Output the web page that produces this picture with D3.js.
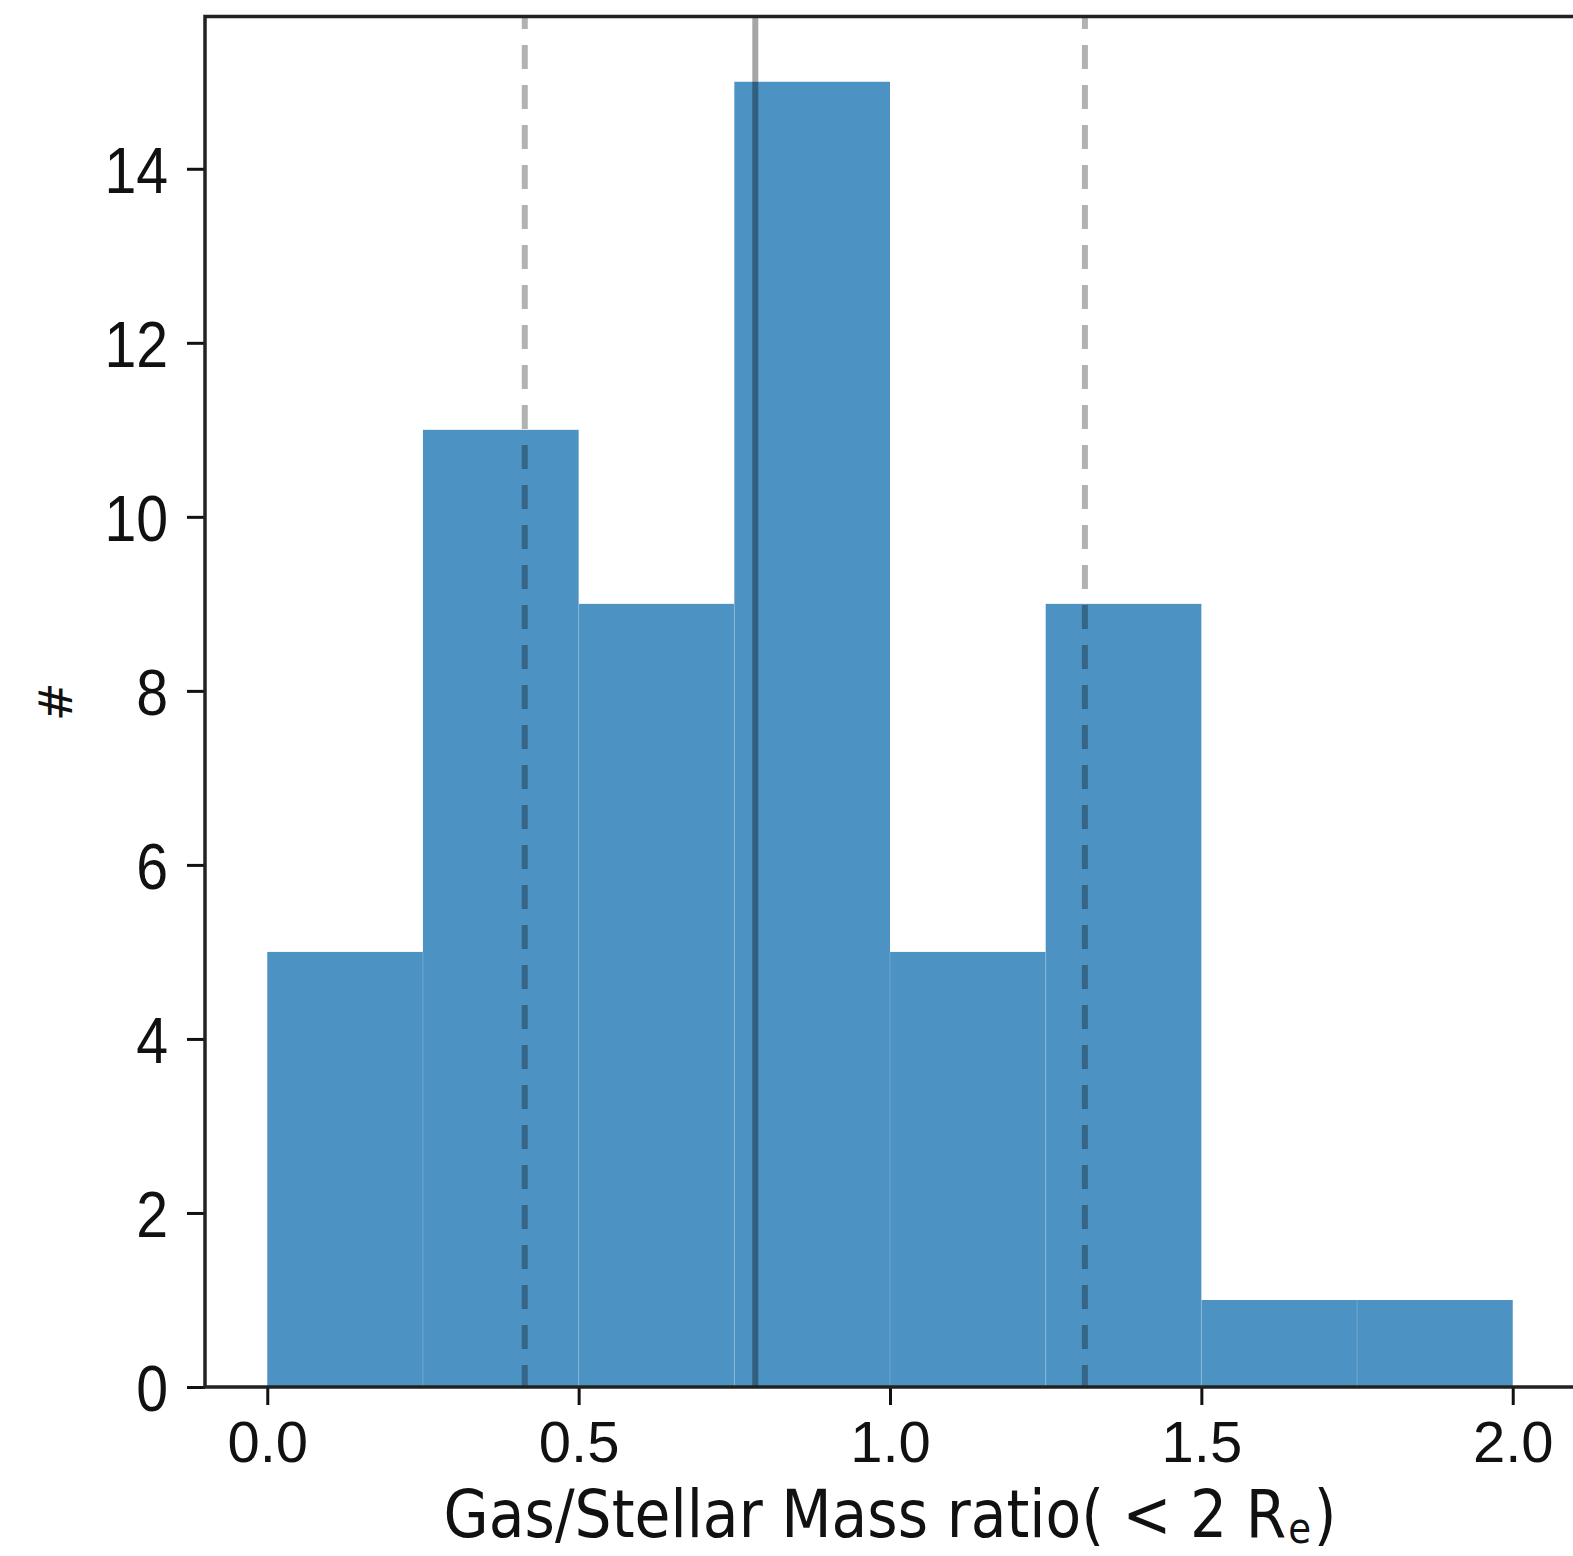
<!DOCTYPE html>
<html>
<head>
<meta charset="utf-8">
<script src="https://cdn.jsdelivr.net/npm/d3@7"></script>
<style>
  html, body { margin: 0; padding: 0; background: #fff; }
  svg { display: block; }
</style>
</head>
<body>
<svg id="chart" width="1573" height="1556"></svg>
<script>
// ---- data ----
const binEdges = [0.0, 0.25, 0.5, 0.75, 1.0, 1.25, 1.5, 1.75, 2.0];
const counts = [5, 11, 9, 15, 5, 9, 1, 1];
const percentileLines = [0.4135, 1.313];   // dashed
const medianLine = [0.7837];              // solid
const xTicks = [0.0, 0.5, 1.0, 1.5, 2.0];
const yTicks = [0, 2, 4, 6, 8, 10, 12, 14];
const xLabel = "Gas/Stellar Mass ratio( < 2 R";
const xLabelSub = "e";
const xLabelEnd = ")";
const yLabel = "#";

(function () {
// ---- layout ----
const svg = d3.select("#chart");
const mLeft = 205, mRight = 1575, mTop = 16.5, mBottom = 1387;

const x = d3.scaleLinear().domain([-0.1, 2.1]).range([mLeft, mRight]);
const y = d3.scaleLinear().domain([0, 15.75]).range([mBottom, mTop]);

const barColor = "rgb(76,146,195)";

// bars
const bins = counts.map((c, i) => ({x0: binEdges[i], x1: binEdges[i + 1], c}));
svg.append("g").selectAll("rect").data(bins).enter().append("rect")
  .attr("x", d => x(d.x0))
  .attr("width", d => x(d.x1) - x(d.x0))
  .attr("y", d => y(d.c))
  .attr("height", d => y(0) - y(d.c))
  .attr("fill", barColor);
// faint bin separators
svg.append("g").selectAll("line").data(bins.slice(1)).enter().append("line")
  .attr("x1", d => x(d.x0)).attr("x2", d => x(d.x0))
  .attr("y1", d => y(0)).attr("y2", (d, i) => y(Math.min(d.c, bins[i].c)))
  .attr("stroke", "rgba(255,255,255,0.12)").attr("stroke-width", 1.5);

// vertical lines (from bottom to top)
svg.append("g").selectAll("line").data(percentileLines).enter().append("line")
  .attr("x1", d => x(d)).attr("x2", d => x(d))
  .attr("y1", y(0)).attr("y2", y(15.75))
  .attr("stroke", "#000").attr("stroke-opacity", 0.3)
  .attr("stroke-width", 6)
  .attr("stroke-dasharray", "24,16")
  .attr("stroke-dashoffset", 2);
svg.append("g").selectAll("line").data(medianLine).enter().append("line")
  .attr("x1", d => x(d)).attr("x2", d => x(d))
  .attr("y1", y(0)).attr("y2", y(15.75))
  .attr("stroke", "#000").attr("stroke-opacity", 0.35)
  .attr("stroke-width", 6);

// axes
const xAxis = d3.axisBottom(x).tickValues(xTicks).tickFormat(d3.format(".1f"))
  .tickSize(18).tickPadding(16);
const gx = svg.append("g").attr("transform", `translate(0,${mBottom})`).call(xAxis);
gx.select(".domain").remove();
gx.selectAll(".tick line").attr("stroke", "#111").attr("stroke-width", 3);
gx.selectAll(".tick text")
  .attr("fill", "#111")
  .style("font-family", "'Liberation Sans', Arial, sans-serif")
  .style("font-size", "58px")
  .attr("dy", "0.71em");

const yAxis = d3.axisLeft(y).tickValues(yTicks).tickFormat(d3.format("d"))
  .tickSize(18).tickPadding(19);
const gy = svg.append("g").attr("transform", `translate(${mLeft},0)`).call(yAxis);
gy.select(".domain").remove();
gy.selectAll(".tick line").attr("stroke", "#111").attr("stroke-width", 3);
gy.selectAll(".tick text")
  .attr("fill", "#111")
  .style("font-family", "'Liberation Sans', Arial, sans-serif")
  .style("font-size", "65px")
  .attr("x", -37 / 0.88)
  .attr("dy", "0.36em")
  .attr("transform", "scale(0.88,1)");

// frame
svg.append("rect")
  .attr("x", mLeft).attr("y", mTop)
  .attr("width", mRight - mLeft).attr("height", mBottom - mTop)
  .attr("fill", "none").attr("stroke", "#222").attr("stroke-width", 3.5);

// x label: three pieces, horizontally condensed to the reference width
const targetW = 893, cx = (mLeft + mRight) / 2, base = 1537;
const lab = svg.append("g");
const font = "'DejaVu Sans', sans-serif";
const t1 = lab.append("text").attr("x", 0).attr("y", 0).attr("fill", "#111")
  .style("font-family", font).style("font-size", "66px").text(xLabel);
const w1 = t1.node().getComputedTextLength();
const t2 = lab.append("text").attr("x", w1 + 2).attr("y", 6).attr("fill", "#111")
  .style("font-family", font).style("font-size", "42px").text(xLabelSub);
const w2 = t2.node().getComputedTextLength();
const t3 = lab.append("text").attr("x", w1 + w2 + 5).attr("y", 0).attr("fill", "#111")
  .style("font-family", font).style("font-size", "66px").text(xLabelEnd);
const w3 = t3.node().getComputedTextLength();
const total = w1 + w2 + 5 + w3;
const s = targetW / total;
lab.attr("transform", `translate(${cx - targetW / 2},${base}) scale(${s},1)`);

svg.append("text")
  .attr("transform", `translate(72,${(mTop + mBottom) / 2}) rotate(-90)`)
  .attr("text-anchor", "middle")
  .attr("fill", "#111")
  .style("font-family", font)
  .style("font-size", "46px")
  .text(yLabel);
})();
</script>
</body>
</html>
